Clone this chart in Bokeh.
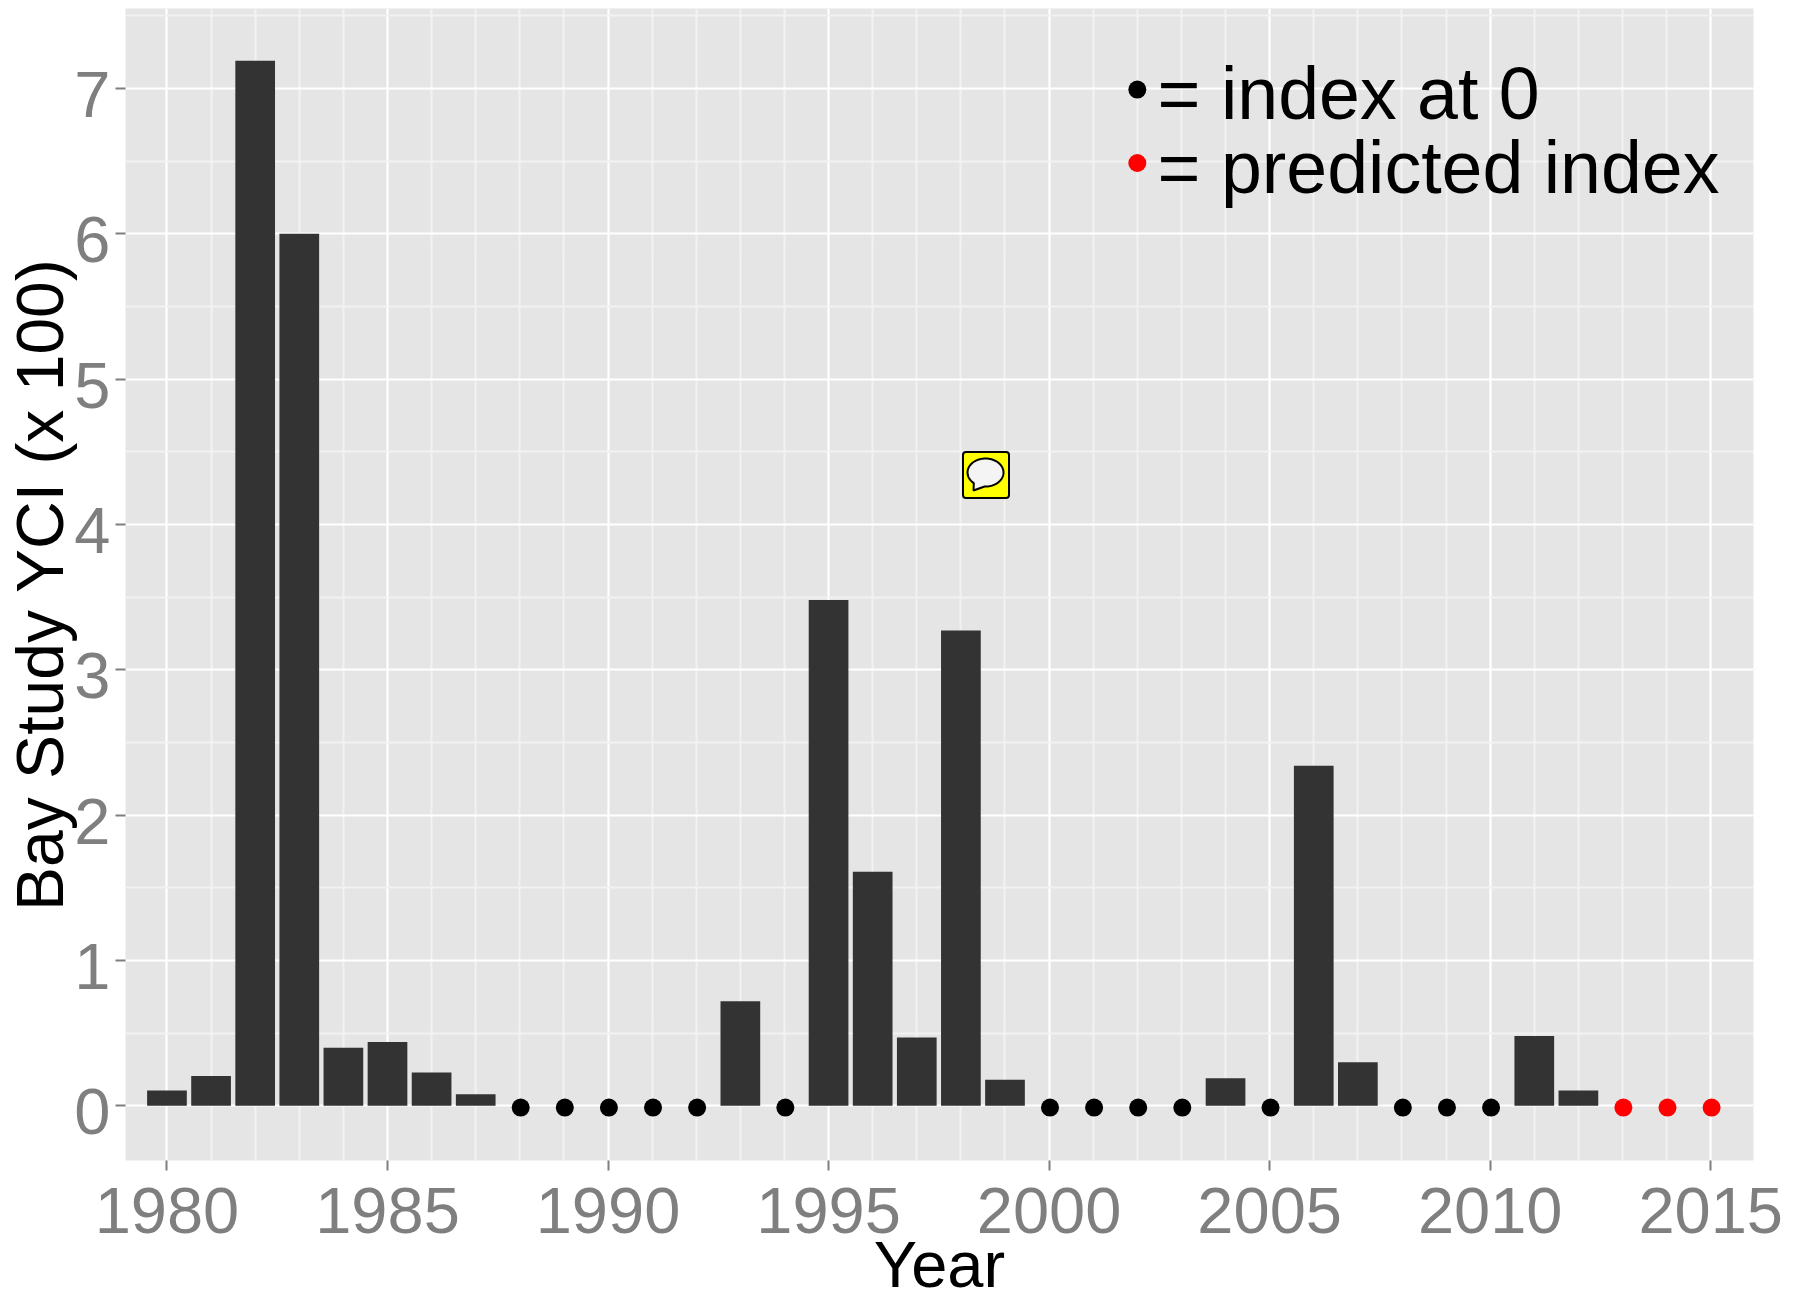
import numpy as np
from bokeh.plotting import figure
from bokeh.embed import file_html
from bokeh.resources import INLINE
from bokeh.models import FixedTicker, Range1d, BoxAnnotation, PolyAnnotation, LinearAxis
from bokeh.core.properties import value
from bokeh.transform import dodge

bar_years = [1980, 1981, 1982, 1983, 1984, 1985, 1986, 1987, 1993, 1995, 1996, 1997,
             1998, 1999, 2004, 2006, 2007, 2011, 2012]
bar_values = [0.105, 0.205, 7.19, 6.0, 0.40, 0.44, 0.23, 0.08, 0.72, 3.48, 1.61, 0.47,
              3.27, 0.18, 0.19, 2.34, 0.30, 0.48, 0.105]
zero_years = [1988, 1989, 1990, 1991, 1992, 1994, 2000, 2001, 2002, 2003, 2005, 2008, 2009, 2010]
zero_values = [0] * len(zero_years)
pred_years = [2013, 2014, 2015]
pred_values = [0, 0, 0]
x_major = [1980, 1985, 1990, 1995, 2000, 2005, 2010, 2015]
x_minor = list(range(1979, 2017))
y_major = [0, 1, 2, 3, 4, 5, 6, 7]
y_minor = [-0.5, 0.5, 1.5, 2.5, 3.5, 4.5, 5.5, 6.5, 7.5]
legend_labels = ["= index at 0", "= predicted index"]

FONT = "Liberation Sans"
GREY = "#7f7f7f"
Y0, Y1 = -0.376, 7.55
LABEL_DROP = 0.0413  # y tick labels sit about 6px below their ticks in the reference

p = figure(width=1807, height=1307, frame_width=1628, frame_height=1152,
           output_backend="svg", toolbar_location=None,
           x_range=Range1d(1979.06, 2015.97), y_range=Range1d(Y0, Y1),
           min_border_left=125, min_border_right=54, min_border_top=8, min_border_bottom=147,
           background_fill_color="#e5e5e5", border_fill_color="white", outline_line_color=None,
           x_axis_label="Year")
p.extra_y_ranges = {"labels": Range1d(Y0 + LABEL_DROP, Y1 + LABEL_DROP)}

p.xaxis.ticker = FixedTicker(ticks=x_major, minor_ticks=x_minor)
ax = p.xaxis[0]
ax.axis_line_color = None
ax.major_tick_line_color = GREY
ax.major_tick_line_width = 2
ax.major_tick_out = 10
ax.major_tick_in = 0
ax.minor_tick_out = 0
ax.minor_tick_in = 0
ax.major_label_text_font = FONT
ax.major_label_text_color = GREY
ax.major_label_text_font_size = "65px"
ax.major_label_standoff = 17
ax.axis_label_text_font = FONT
ax.axis_label_text_font_style = "normal"
ax.axis_label_text_color = "black"
ax.axis_label_text_font_size = "65px"
ax.axis_label_standoff = -8

# inner y axis: tick marks only (its one major tick lies off the range, so it has no label)
ay = p.yaxis[0]
ay.ticker = FixedTicker(ticks=[-100], minor_ticks=y_major)
ay.axis_line_color = None
ay.major_tick_line_color = None
ay.minor_tick_line_color = GREY
ay.minor_tick_line_width = 2
ay.minor_tick_out = 10
ay.minor_tick_in = 0

# outer y axis: tick labels and title
al = LinearAxis(y_range_name="labels", ticker=FixedTicker(ticks=y_major),
                axis_label="Bay Study YCI (x 100)")
al.axis_line_color = None
al.major_tick_line_color = None
al.minor_tick_line_color = None
al.major_tick_out = 0
al.major_tick_in = 0
al.major_label_text_font = FONT
al.major_label_text_color = GREY
al.major_label_text_font_size = "65px"
al.major_label_standoff = 5
al.major_label_orientation = "horizontal"
al.axis_label_text_font = FONT
al.axis_label_text_font_style = "normal"
al.axis_label_text_color = "black"
al.axis_label_text_font_size = "66px"
al.axis_label_standoff = -6
p.add_layout(al, "left")

p.xgrid[0].ticker = FixedTicker(ticks=x_major, minor_ticks=x_minor)
p.ygrid[0].ticker = FixedTicker(ticks=y_major, minor_ticks=y_minor)
for g in (p.xgrid[0], p.ygrid[0]):
    g.grid_line_color = "white"
    g.grid_line_width = 2
    g.minor_grid_line_color = "#f2f2f2"
    g.minor_grid_line_width = 2

p.vbar(x=bar_years, top=bar_values, bottom=0, width=0.9, fill_color="#333333", line_color=None)
p.scatter(x=dodge("x", 0.02), y=dodge("y", -0.012),
          source=dict(x=zero_years, y=zero_values), size=18, color="black", line_color=None)
p.scatter(x=dodge("x", 0.02), y=dodge("y", -0.012),
          source=dict(x=pred_years, y=pred_values), size=18, color="#ff0000", line_color=None)

# hand-placed legend, as in the original annotation layer
p.scatter(x=[2002.0], y=[6.992], size=18, color="black", line_color=None)
p.scatter(x=[2002.0], y=[6.487], size=18, color="#ff0000", line_color=None)
p.text(x=[2002.46, 2002.46], y=[6.965, 6.456], text=legend_labels,
       text_font=value(FONT), text_font_size="73.5px", text_color="black",
       text_baseline="alphabetic", text_align="left")

# speech-bubble icon (screen units measure from the frame's lower-left corner)
p.add_layout(BoxAnnotation(left=837.5, right=883.5, top=708.5, bottom=662.5,
                           left_units="screen", right_units="screen",
                           top_units="screen", bottom_units="screen",
                           fill_color="#ffff00", fill_alpha=1, line_color="black", line_alpha=1,
                           line_width=2, border_radius=3, level="overlay"))
theta = np.radians(np.linspace(267, 589.5, 70))
cx, cy, rx, ry = 860.0, 688.0, 18.0, 14.0
bx = np.r_[cx + rx * np.cos(theta), 848.0]
by = np.r_[cy + ry * np.sin(theta), 670.0]
p.add_layout(PolyAnnotation(xs=bx.tolist(), ys=by.tolist(), xs_units="screen", ys_units="screen",
                            fill_color="#f4f4f4", fill_alpha=1, line_color="black", line_alpha=1,
                            line_width=2, level="overlay"))

open("out.html", "w").write(file_html(p, INLINE))
